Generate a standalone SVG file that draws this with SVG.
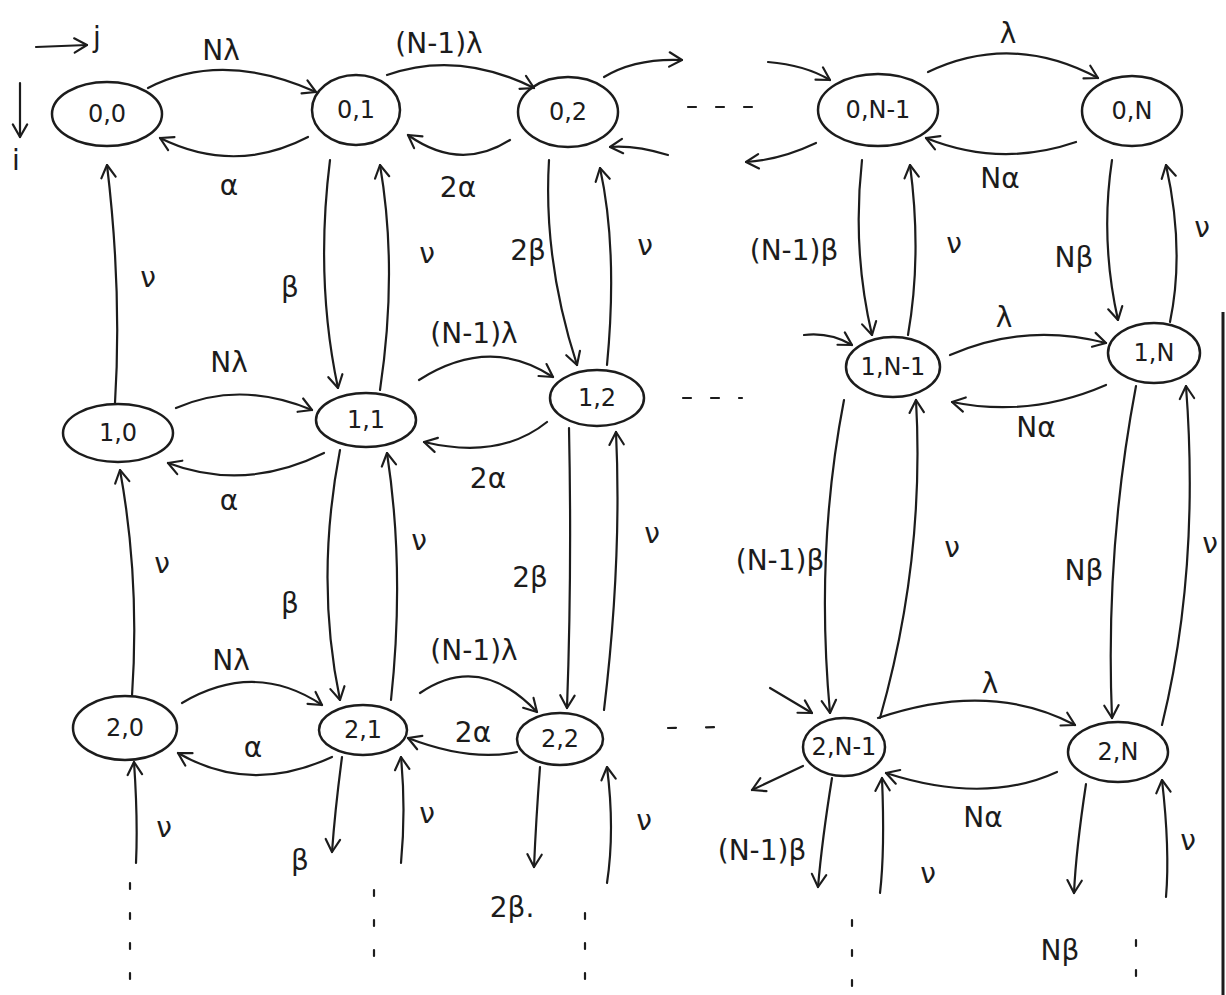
<svg xmlns="http://www.w3.org/2000/svg" width="1226" height="995" viewBox="0 0 1226 995">
<style>
.n ellipse{fill:none;stroke:#1c1c1c;stroke-width:2.5}
.n text{font-family:"DejaVu Sans",sans-serif;font-size:24px;fill:#1c1c1c;text-anchor:middle;dominant-baseline:central}
.e path{fill:none;stroke:#1c1c1c;stroke-width:2.2;stroke-linecap:round}
.e .a{marker-end:url(#ah)}
.e .d{stroke-dasharray:6 24}
.l{font-family:"DejaVu Sans",sans-serif;font-size:28px;fill:#1c1c1c;text-anchor:middle;dominant-baseline:central}
</style>
<defs>
<marker id="ah" viewBox="0 0 20 20" refX="17" refY="10" markerWidth="18" markerHeight="18" markerUnits="userSpaceOnUse" orient="auto">
<path d="M3,2 L17,10 L3,18" fill="none" stroke="#1c1c1c" stroke-width="2.4" stroke-linecap="round" stroke-linejoin="round"/>
</marker>
</defs>
<rect width="1226" height="995" fill="#fff"/>
<line x1="1223" y1="312" x2="1223" y2="995" stroke="#1c1c1c" stroke-width="3"/>

<g id="nodes">
<g id="n00" class="n"><ellipse cx="107" cy="114" rx="55" ry="32"/><text x="107" y="114">0,0</text></g>
<g id="n01" class="n"><ellipse cx="356" cy="110" rx="44" ry="35"/><text x="356" y="110">0,1</text></g>
<g id="n02" class="n"><ellipse cx="568" cy="112" rx="50" ry="35"/><text x="568" y="112">0,2</text></g>
<g id="n0N1" class="n"><ellipse cx="878" cy="110" rx="60" ry="36"/><text x="878" y="110">0,N-1</text></g>
<g id="n0N" class="n"><ellipse cx="1132" cy="111" rx="50" ry="35"/><text x="1132" y="111">0,N</text></g>

<g id="n10" class="n"><ellipse cx="118" cy="433" rx="55" ry="29"/><text x="118" y="433">1,0</text></g>
<g id="n11" class="n"><ellipse cx="366" cy="420" rx="50" ry="27"/><text x="366" y="420">1,1</text></g>
<g id="n12" class="n"><ellipse cx="597" cy="398" rx="47" ry="28"/><text x="597" y="398">1,2</text></g>
<g id="n1N1" class="n"><ellipse cx="893" cy="367" rx="47" ry="30"/><text x="893" y="367">1,N-1</text></g>
<g id="n1N" class="n"><ellipse cx="1154" cy="353" rx="46" ry="30"/><text x="1154" y="353">1,N</text></g>

<g id="n20" class="n"><ellipse cx="125" cy="728" rx="52" ry="32"/><text x="125" y="728">2,0</text></g>
<g id="n21" class="n"><ellipse cx="363" cy="730" rx="44" ry="25"/><text x="363" y="730">2,1</text></g>
<g id="n22" class="n"><ellipse cx="560" cy="739" rx="43" ry="26"/><text x="560" y="739">2,2</text></g>
<g id="n2N1" class="n"><ellipse cx="844" cy="747" rx="41" ry="29"/><text x="844" y="747">2,N-1</text></g>
<g id="n2N" class="n"><ellipse cx="1118" cy="752" rx="50" ry="30"/><text x="1118" y="752">2,N</text></g>
</g>

<g id="connectors" class="e">
<!-- axes -->
<path class="a" d="M36,47 L87,45"/>
<path class="a" d="M20,83 L20,137"/>
<!-- row 0 horizontal -->
<path class="a" d="M148,88 Q222,50 316,92"/>
<path class="a" d="M308,137 Q235,175 160,138"/>
<path class="a" d="M387,75 Q458,50 534,88"/>
<path class="a" d="M510,140 Q460,172 408,135"/>
<path class="a" d="M604,77 Q635,58 682,60"/>
<path class="a" d="M668,155 Q635,145 610,147"/>
<path d="M688,107 L752,107" style="stroke-dasharray:8 20"/>
<path class="a" d="M768,62 Q805,65 830,80"/>
<path class="a" d="M816,143 Q780,160 746,162"/>
<path class="a" d="M928,72 Q1012,32 1098,78"/>
<path class="a" d="M1076,142 Q1000,168 926,138"/>
<!-- row 0-1 vertical -->
<path class="a" d="M115,403 Q122,290 107,165"/>
<path class="a" d="M330,160 Q315,280 338,388"/>
<path class="a" d="M380,390 Q398,270 380,165"/>
<path class="a" d="M549,160 Q543,260 577,365"/>
<path class="a" d="M607,365 Q618,250 600,168"/>
<path class="a" d="M862,160 Q852,250 872,335"/>
<path class="a" d="M908,335 Q922,255 910,165"/>
<path class="a" d="M1112,160 Q1100,240 1118,320"/>
<path class="a" d="M1170,322 Q1185,250 1166,165"/>
<!-- row 1 horizontal -->
<path class="a" d="M176,408 Q240,380 312,410"/>
<path class="a" d="M324,453 Q245,492 168,463"/>
<path class="a" d="M419,380 Q490,335 553,377"/>
<path class="a" d="M547,422 Q500,460 424,442"/>
<path d="M683,398 L742,398" style="stroke-dasharray:8 20"/>
<path class="a" d="M804,335 Q830,332 852,345"/>
<path class="a" d="M950,355 Q1025,322 1106,343"/>
<path class="a" d="M1106,385 Q1030,418 952,402"/>
<!-- row 1-2 vertical -->
<path class="a" d="M132,696 Q140,580 120,470"/>
<path class="a" d="M340,450 Q315,580 340,700"/>
<path class="a" d="M391,700 Q405,570 387,453"/>
<path class="a" d="M569,428 Q572,570 567,708"/>
<path class="a" d="M604,710 Q622,560 616,432"/>
<path class="a" d="M844,400 Q815,550 830,713"/>
<path class="a" d="M880,718 Q925,560 916,400"/>
<path class="a" d="M1136,386 Q1105,550 1112,718"/>
<path class="a" d="M1162,725 Q1200,570 1186,386"/>
<!-- row 2 horizontal -->
<path class="a" d="M182,703 Q255,660 322,705"/>
<path class="a" d="M332,757 Q250,795 178,753"/>
<path class="a" d="M420,693 Q480,652 537,712"/>
<path class="a" d="M517,752 Q470,762 408,738"/>
<path d="M668,728 L722,727" style="stroke-dasharray:8 30"/>
<path class="a" d="M770,688 L812,713"/>
<path class="a" d="M803,766 L752,790"/>
<path class="a" d="M878,718 Q990,680 1075,725"/>
<path class="a" d="M1057,772 Q985,805 886,773"/>
<!-- below row 2 -->
<path class="a" d="M136,863 Q138,820 134,762"/>
<path class="a" d="M342,757 Q335,810 332,852"/>
<path class="a" d="M401,863 Q406,810 401,757"/>
<path class="a" d="M540,767 Q536,820 534,867"/>
<path class="a" d="M607,883 Q615,830 607,767"/>
<path class="a" d="M832,778 Q822,840 818,887"/>
<path class="a" d="M880,893 Q885,850 882,778"/>
<path class="a" d="M1086,784 Q1076,850 1074,893"/>
<path class="a" d="M1166,897 Q1170,850 1162,780"/>
<path class="d" d="M130,883 L130,995"/>
<path class="d" d="M374,890 L374,965"/>
<path class="d" d="M585,913 L585,980"/>
<path class="d" d="M852,920 L852,990"/>
<path class="d" d="M1136,940 L1136,995"/>
</g>

<g id="labels">
<text class="l" x="97" y="37">j</text>
<text class="l" x="16" y="160">i</text>
<text class="l" x="221" y="50">Nλ</text>
<text class="l" x="439" y="43">(N-1)λ</text>
<text class="l" x="229" y="185">α</text>
<text class="l" x="458" y="187">2α</text>
<text class="l" x="1008" y="33">λ</text>
<text class="l" x="1000" y="178">Nα</text>
<text class="l" x="148" y="277">ν</text>
<text class="l" x="290" y="287">β</text>
<text class="l" x="427" y="253">ν</text>
<text class="l" x="528" y="250">2β</text>
<text class="l" x="645" y="245">ν</text>
<text class="l" x="794" y="250">(N-1)β</text>
<text class="l" x="954" y="243">ν</text>
<text class="l" x="1074" y="257">Nβ</text>
<text class="l" x="1202" y="227">ν</text>
<text class="l" x="229" y="362">Nλ</text>
<text class="l" x="474" y="333">(N-1)λ</text>
<text class="l" x="229" y="500">α</text>
<text class="l" x="488" y="478">2α</text>
<text class="l" x="1004" y="317">λ</text>
<text class="l" x="1036" y="427">Nα</text>
<text class="l" x="162" y="563">ν</text>
<text class="l" x="290" y="603">β</text>
<text class="l" x="419" y="540">ν</text>
<text class="l" x="530" y="577">2β</text>
<text class="l" x="652" y="533">ν</text>
<text class="l" x="780" y="560">(N-1)β</text>
<text class="l" x="952" y="547">ν</text>
<text class="l" x="1084" y="570">Nβ</text>
<text class="l" x="1210" y="543">ν</text>
<text class="l" x="231" y="660">Nλ</text>
<text class="l" x="474" y="650">(N-1)λ</text>
<text class="l" x="253" y="747">α</text>
<text class="l" x="473" y="732">2α</text>
<text class="l" x="990" y="683">λ</text>
<text class="l" x="983" y="817">Nα</text>
<text class="l" x="164" y="827">ν</text>
<text class="l" x="300" y="860">β</text>
<text class="l" x="427" y="813">ν</text>
<text class="l" x="512" y="907">2β.</text>
<text class="l" x="644" y="820">ν</text>
<text class="l" x="762" y="850">(N-1)β</text>
<text class="l" x="928" y="873">ν</text>
<text class="l" x="1060" y="950">Nβ</text>
<text class="l" x="1188" y="840">ν</text>
</g>
</svg>
